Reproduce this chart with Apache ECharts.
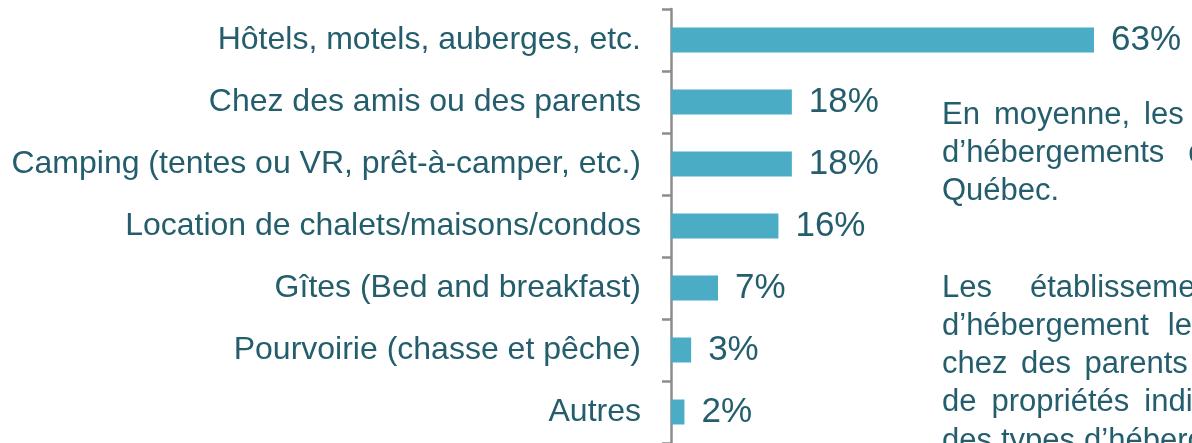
<!DOCTYPE html>
<html>
<head>
<meta charset="utf-8">
<script src="https://cdn.jsdelivr.net/npm/echarts@6/dist/echarts.min.js"></script>
<style>
  html, body { margin: 0; padding: 0; background: #fff; }
  #main { width: 1192px; height: 443px; }
</style>
</head>
<body>
<div id="main"></div>
<script>
// catégories, de haut en bas
const categories = [
  'Hôtels, motels, auberges, etc.',
  'Chez des amis ou des parents',
  'Camping (tentes ou VR, prêt-à-camper, etc.)',
  'Location de chalets/maisons/condos',
  'Gîtes (Bed and breakfast)',
  'Pourvoirie (chasse et pêche)',
  'Autres'
];
const values = [63, 18, 18, 16, 7, 3, 2];

// texte de droite (coupé par le bord de l'image)
const note1 = [
  'En moyenne, les voyageurs ont utilisé',
  'd’hébergements différents au',
  'Québec.'
];
const note2 = [
  'Les établissements',
  'd’hébergement les plus populaires',
  'chez des parents ou amis et la location',
  'de propriétés individuelles sont',
  'des types d’hébergement'
];

const textColor = '#245e6d';
const axisColor = '#8c8c8c';
const fontFamily = '"Liberation Sans", Arial, Helvetica, sans-serif';
const noteSize = 31;

// espacement des mots (texte justifié)
const gaps1 = [14, 24, 9];
const gaps2 = [38, 19, 13.5, 15, 9];

const ctx = document.createElement('canvas').getContext('2d');
ctx.font = noteSize + 'px ' + fontFamily;

function noteWords(lines, gaps, x0, y0, lh) {
  const out = [];
  lines.forEach((line, i) => {
    let x = x0;
    line.split(' ').forEach(w => {
      out.push({
        type: 'text',
        x: x,
        y: y0 + i * lh,
        style: {
          text: w,
          fill: textColor,
          font: noteSize + 'px ' + fontFamily,
          verticalAlign: 'middle',
          align: 'left'
        }
      });
      x += ctx.measureText(w).width + gaps[i];
    });
  });
  return out;
}

var myChart = echarts.init(document.getElementById('main'));
myChart.setOption({
  animation: false,
  grid: { left: 671, right: 0, top: 9, bottom: 0 },
  xAxis: { type: 'value', min: 0, max: 77.6, show: false },
  yAxis: {
    type: 'category',
    inverse: true,
    data: categories,
    axisLine: { show: true, lineStyle: { color: axisColor, width: 2.5 } },
    axisTick: { show: true, length: 9, lineStyle: { color: axisColor, width: 2.5 } },
    axisLabel: { margin: 30, fontSize: 32, color: textColor, fontFamily: fontFamily }
  },
  series: [
    {
      type: 'bar',
      data: values,
      barWidth: 25,
      itemStyle: { color: '#4bacc6' },
      label: {
        show: true,
        position: 'right',
        distance: 17,
        formatter: '{c}%',
        fontSize: 35,
        color: textColor,
        fontFamily: fontFamily
      }
    }
  ],
  graphic: noteWords(note1, gaps1, 942, 115, 38.3).concat(noteWords(note2, gaps2, 942, 288, 38.3))
});
</script>
</body>
</html>
